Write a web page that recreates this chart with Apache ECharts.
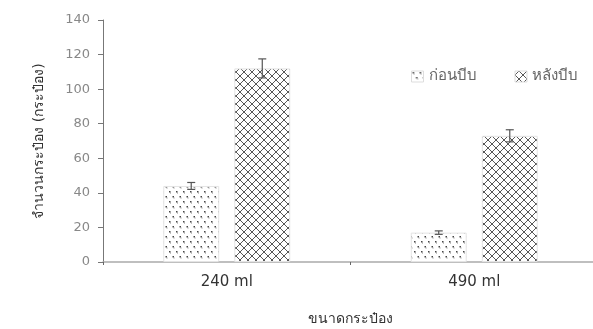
<!DOCTYPE html>
<html><head><meta charset="utf-8">
<script src="https://cdn.jsdelivr.net/npm/echarts@6/dist/echarts.min.js"></script>
<style>html,body{margin:0;padding:0;background:#fff}#c{width:593px;height:329px}</style>
</head><body><div id="c"></div>
<script>
const categories = ['240 ml', '490 ml'];
const seriesNames = ['ก่อนบีบ', 'หลังบีบ'];
const beforeValues = [44, 17];
const beforeErrors = [2, 1];
const afterValues = [112, 73];
const afterErrors = [5.5, 3.5];
const yTicks = { min: 0, max: 140, interval: 20 };

function dotPattern() {
  const c = document.createElement('canvas'); c.width = 7; c.height = 10;
  const g = c.getContext('2d'); g.fillStyle = '#fff'; g.fillRect(0,0,7,10);
  g.fillStyle = '#444';
  g.fillRect(1,1,1.5,1.5); g.fillRect(4.5,6,1.5,1.5);
  g.fillStyle = '#888';
  g.fillRect(2,2.5,1,1); g.fillRect(5.5,7.5,1,1);
  return c;
}
function crossPattern() {
  const c = document.createElement('canvas'); c.width = 8; c.height = 8;
  const g = c.getContext('2d'); g.fillStyle = '#fff'; g.fillRect(0,0,8,8);
  g.strokeStyle = '#444'; g.lineWidth = 0.9;
  g.beginPath();
  g.moveTo(0,4); g.lineTo(4,0); g.lineTo(8,4); g.lineTo(4,8); g.closePath();
  g.stroke();
  return c;
}
const dotImg = dotPattern(), crossImg = crossPattern();

const chart = echarts.init(document.getElementById('c'));
const textCol = '#666';
const fam = 'DejaVu Sans, sans-serif';
function errorSeries(vals, errs, idx) {
  return {
    type: 'custom', name: seriesNames[idx] + '_err', silent: true, z: 10,
    data: vals.map((v, i) => [i, v - errs[i], v + errs[i]]),
    renderItem: function (params, api) {
      const x = api.value(0);
      const lo = api.coord([x, api.value(1)]);
      const hi = api.coord([x, api.value(2)]);
      const bw = api.size([1, 0])[0];
      const barW = bw * 0.226, gap = barW * 0.27;
      const off = (idx === 0 ? -1 : 1) * (barW / 2 + gap / 2);
      const cx = lo[0] + off, hw = 4;
      const st = { stroke: '#555', lineWidth: 1.2 };
      return { type: 'group', children: [
        { type: 'line', shape: { x1: cx, y1: lo[1], x2: cx, y2: hi[1] }, style: st },
        { type: 'line', shape: { x1: cx - hw, y1: lo[1], x2: cx + hw, y2: lo[1] }, style: st },
        { type: 'line', shape: { x1: cx - hw, y1: hi[1], x2: cx + hw, y2: hi[1] }, style: st }
      ]};
    }
  };
}
chart.setOption({
  animation: false,
  textStyle: { fontFamily: fam },
  legend: {
    data: [
      { name: seriesNames[0], icon: 'rect', itemStyle: { color: { image: dotImg, repeat: 'repeat' }, borderColor: '#ddd', borderWidth: 1 } },
      { name: seriesNames[1], icon: 'rect', itemStyle: { color: { image: crossImg, repeat: 'repeat' }, borderColor: '#ddd', borderWidth: 1 } }
    ],
    right: 10, top: 64, itemWidth: 12, itemHeight: 11, itemGap: 38,
    textStyle: { color: textCol, fontSize: 15, fontFamily: fam }
  },
  grid: { left: 103, right: -5, top: 20, bottom: 67, outerBoundsMode: 'none', containLabel: false },
  xAxis: {
    type: 'category', data: categories,
    name: 'ขนาดกระป๋อง', nameLocation: 'middle', nameGap: 50,
    nameTextStyle: { color: '#333', fontSize: 14, fontFamily: fam },
    axisLine: { lineStyle: { color: '#aaa', width: 1.5 } },
    axisTick: { show: true, length: 3, lineStyle: { color: '#666' } },
    axisLabel: { color: '#333', fontSize: 15, margin: 13, fontFamily: fam }
  },
  yAxis: {
    type: 'value', min: yTicks.min, max: yTicks.max, interval: yTicks.interval,
    name: 'จำนวนกระป๋อง (กระป๋อง)', nameLocation: 'middle', nameGap: 57, nameRotate: 90,
    nameTextStyle: { color: '#333', fontSize: 14, fontFamily: fam },
    axisLine: { show: true, lineStyle: { color: '#777' } },
    axisTick: { show: true, length: 5, lineStyle: { color: '#777' } },
    axisLabel: { color: '#888', fontSize: 13, margin: 13, fontFamily: fam },
    splitLine: { show: false }
  },
  series: [
    { type: 'bar', name: seriesNames[0], data: beforeValues, barWidth: '22.6%', barGap: '27%',
      itemStyle: { color: { image: dotImg, repeat: 'repeat' }, borderColor: '#e4e4e4', borderWidth: 1 } },
    { type: 'bar', name: seriesNames[1], data: afterValues, barWidth: '22.6%', barGap: '27%',
      itemStyle: { color: { image: crossImg, repeat: 'repeat' }, borderColor: '#e4e4e4', borderWidth: 1 } },
    errorSeries(beforeValues, beforeErrors, 0),
    errorSeries(afterValues, afterErrors, 1)
  ]
});
</script></body></html>
